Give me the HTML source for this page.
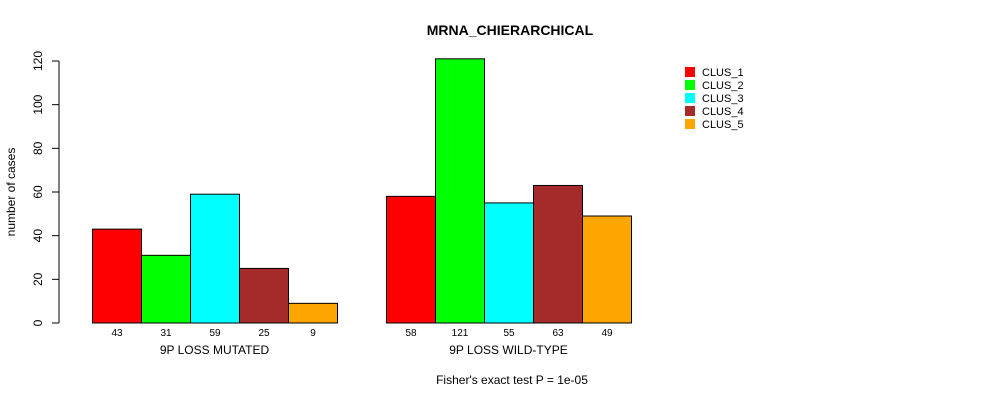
<!DOCTYPE html>
<html><head><meta charset="utf-8"><style>body{margin:0;background:#fff}svg{display:block;font-family:"Liberation Sans",Arial,sans-serif}</style></head>
<body>
<svg id="c" width="990" height="400">
<text x="510" y="35" text-anchor="middle" font-weight="bold" font-size="14">MRNA_CHIERARCHICAL</text>
<text transform="translate(15,192) rotate(-90)" text-anchor="middle" font-size="12">number of cases</text>
<text x="512" y="384" text-anchor="middle" font-size="12">Fisher's exact test P = 1e-05</text>
</svg>
<script>
const groups=["9P LOSS MUTATED","9P LOSS WILD-TYPE"];
const series=["CLUS_1","CLUS_2","CLUS_3","CLUS_4","CLUS_5"];
const colors=["#ff0000","#00ff00","#00ffff","#a52a2a","#ffa500"];
const mutated=[43,31,59,25,9];
const wildtype=[58,121,55,63,49];
const yTicks=[0,20,40,60,80,100,120];
const values=[mutated,wildtype];
const NS="http://www.w3.org/2000/svg";
const svg=document.getElementById('c');
const y=v=>323-v*(262/120);
const gx=[92,386],bw=49;
function mk(t,a){const e=document.createElementNS(NS,t);for(const k in a)e.setAttribute(k,a[k]);svg.appendChild(e);return e;}
const ax=mk('line',{x1:59,x2:59,y1:y(0),y2:y(120),stroke:'#000'});


yTicks.forEach(t=>{
 const l=mk('line',{x1:52,x2:59,y1:y(t),y2:y(t),stroke:'#000'});
 
 
 const tx=mk('text',{transform:`translate(42,${y(t)}) rotate(-90)`,'text-anchor':'middle','font-size':12});
 tx.textContent=t;
 
 
});
values.forEach((vals,g)=>{
 vals.forEach((v,i)=>{
  const x=gx[g]+i*bw;
  const r=mk('rect',{x:x+0.5,y:y(v),width:bw,height:y(0)-y(v),fill:colors[i],stroke:'#000'});
  
  
  const t=mk('text',{x:x+bw/2+0.5,y:336,'text-anchor':'middle','font-size':10});
  t.textContent=v;
  
  
 });
 const gl=mk('text',{x:gx[g]+bw*2.5,y:354,'text-anchor':'middle','font-size':12});
 gl.textContent=groups[g];
 
 
});
series.forEach((s,i)=>{
 const r=mk('rect',{x:685,y:67+i*13,width:10,height:10,fill:colors[i]});
 
 
 const t=mk('text',{x:702,y:76+i*13,'font-size':11});
 t.textContent=s;
 
 
});
</script>
</body></html>
